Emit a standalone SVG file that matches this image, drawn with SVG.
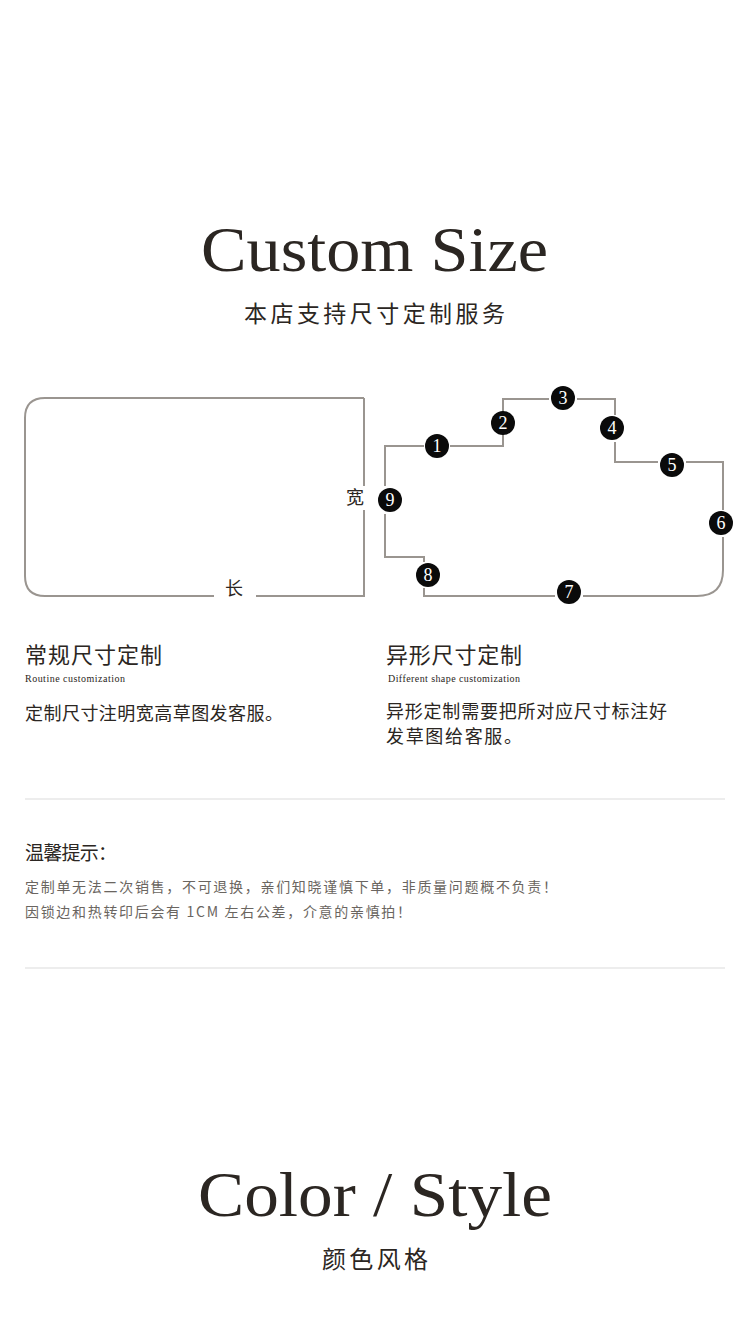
<svg xmlns="http://www.w3.org/2000/svg" width="750" height="1325" viewBox="0 0 750 1325">
<style>
.t{font-family:"Liberation Serif","Noto Sans CJK SC",serif;fill:#2b2622}
.c{font-family:"Liberation Serif","Noto Sans CJK SC",serif;fill:#2b2622}
.ln{fill:none;stroke:#9a9590;stroke-width:2}
.hr{stroke:#dcdcdc;stroke-width:1.2}
.n circle{fill:#0a0a0a}
.n text{font-family:"Liberation Serif",serif;font-size:18px;fill:#fff;text-anchor:middle}
.g{font-family:"Noto Sans CJK SC",sans-serif;fill:#6a6560;font-size:14px}
</style>
<rect width="750" height="1325" fill="#fff"/>
<text class="t" x="201" y="271" font-size="64" textLength="347" lengthAdjust="spacingAndGlyphs">Custom Size</text>
<text class="c" x="244" y="322" font-size="23" textLength="261">本店支持尺寸定制服务</text>
<g id="connectors">
<path class="ln" d="M364 398 V486 M364 510 V596 H256 M214 596 H45 Q25 596 25 576 V418 Q25 398 45 398 H364"/>
<path class="ln" d="M385 486 V446 H424 M450 446 H503 V399 H549 M577 399 H615 V415 M615 442 V462 H658 M686 462 H723 V510 M723 537 V570 Q723 596 697 596 H583 M555 596 H424 V588 M424 562 V557 H385 V514"/>
</g>
<text class="c" x="355" y="504" font-size="18" text-anchor="middle">宽</text>
<text class="c" x="234" y="595" font-size="18" text-anchor="middle">长</text>
<g id="n1" class="n"><circle cx="437" cy="446" r="12"/><text x="437" y="452">1</text></g>
<g id="n2" class="n"><circle cx="503" cy="423" r="12"/><text x="503" y="429">2</text></g>
<g id="n3" class="n"><circle cx="563" cy="398" r="12"/><text x="563" y="404">3</text></g>
<g id="n4" class="n"><circle cx="612" cy="428" r="12"/><text x="612" y="434">4</text></g>
<g id="n5" class="n"><circle cx="672" cy="465" r="12"/><text x="672" y="471">5</text></g>
<g id="n6" class="n"><circle cx="721" cy="523" r="12"/><text x="721" y="529">6</text></g>
<g id="n7" class="n"><circle cx="569" cy="592" r="12"/><text x="569" y="598">7</text></g>
<g id="n8" class="n"><circle cx="428" cy="575" r="12"/><text x="428" y="581">8</text></g>
<g id="n9" class="n"><circle cx="390" cy="500" r="12"/><text x="390" y="506">9</text></g>
<text class="c" x="25" y="663" font-size="22" textLength="137">常规尺寸定制</text>
<text class="c" x="25" y="682" font-size="10" fill="#666" textLength="100">Routine customization</text>
<text class="c" x="25" y="720" font-size="18" textLength="258">定制尺寸注明宽高草图发客服。</text>
<text class="c" x="386" y="663" font-size="22" textLength="136">异形尺寸定制</text>
<text class="c" x="388" y="682" font-size="10" fill="#666" textLength="132">Different shape customization</text>
<text class="c" x="386" y="718" font-size="18" textLength="281">异形定制需要把所对应尺寸标注好</text>
<text class="c" x="386" y="743" font-size="18" textLength="136">发草图给客服。</text>
<line class="hr" x1="25" y1="799" x2="725" y2="799"/>
<text class="c" x="25" y="860" font-size="19" textLength="92">温馨提示：</text>
<text class="g" x="25" y="892" textLength="532">定制单无法二次销售，不可退换，亲们知晓谨慎下单，非质量问题概不负责！</text>
<text class="g" x="25" y="917" textLength="386">因锁边和热转印后会有 1CM 左右公差，介意的亲慎拍！</text>
<line class="hr" x1="25" y1="968" x2="725" y2="968"/>
<text class="t" x="198" y="1216" font-size="64" textLength="354" lengthAdjust="spacingAndGlyphs">Color / Style</text>
<text class="c" x="322" y="1268" font-size="24" textLength="106">颜色风格</text>
</svg>
